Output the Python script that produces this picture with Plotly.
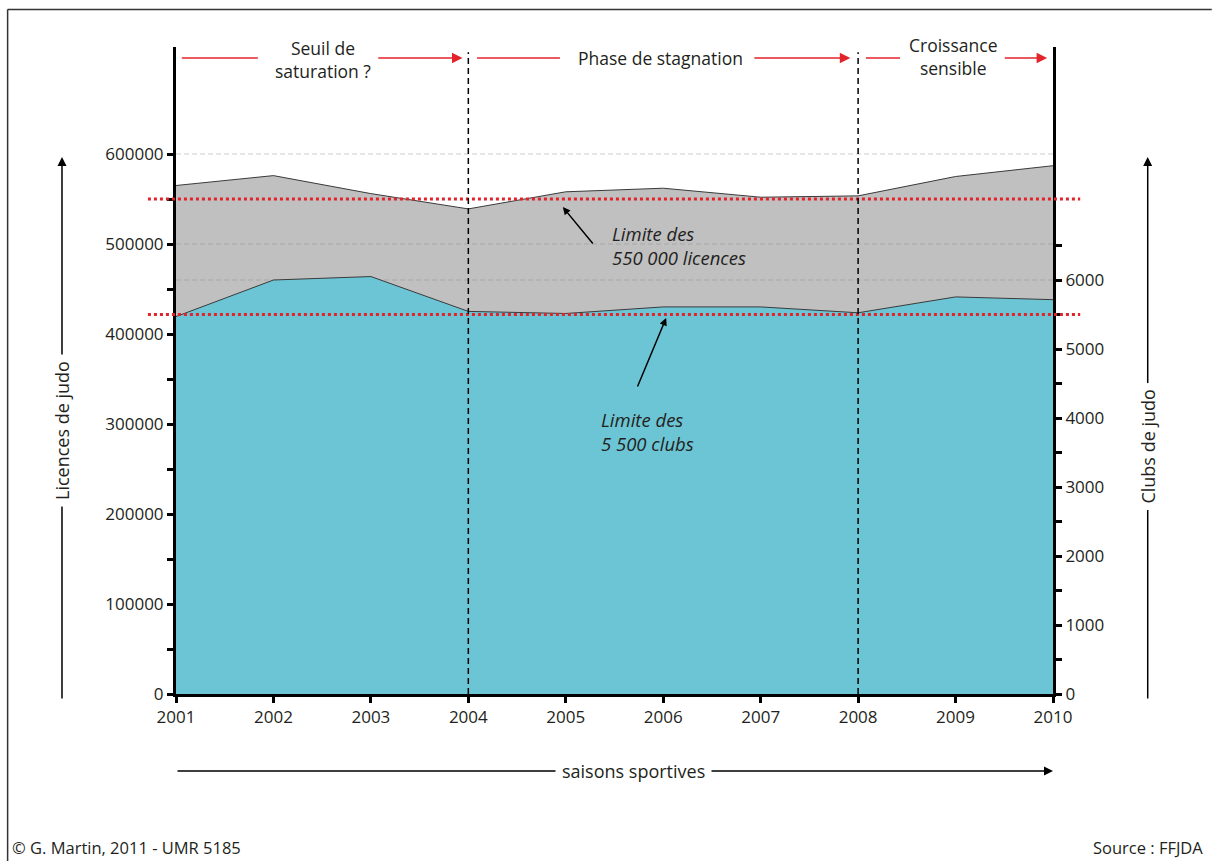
import plotly.graph_objects as go

# ---- data ----
years = [2001, 2002, 2003, 2004, 2005, 2006, 2007, 2008, 2009, 2010]
licences = [565000, 576000, 556000, 539000, 558000, 562000, 552000, 553500, 575000, 587000]
clubs = [5470, 6000, 6050, 5545, 5515, 5610, 5610, 5525, 5755, 5715]

lic_ticks = list(range(0, 600001, 50000))
lic_labels = [str(v) if v % 100000 == 0 else "" for v in lic_ticks]
club_ticks = list(range(0, 6501, 500))
club_labels = [str(v) if v % 1000 == 0 else "" for v in club_ticks]

lic_grid = [600000, 500000]
club_grid = [6000]
lic_limit = 550000
club_limit = 5500
phase_bounds = [2004, 2008]

FONT = "Open Sans"
TXT = "#231f20"
RED = "#e3232a"

fig = go.Figure()

# grey area: licences (left axis)
fig.add_trace(go.Scatter(x=years, y=licences, mode="lines", fill="tozeroy",
                         fillcolor="#c0c0c0", line=dict(color="#3a3a3a", width=1),
                         yaxis="y", hoverinfo="skip", showlegend=False))
for g in lic_grid:
    fig.add_trace(go.Scatter(x=[years[0], years[-1]], y=[g, g], mode="lines",
                             line=dict(color="rgba(140,140,140,0.45)", width=1, dash="5px,3px"),
                             yaxis="y", hoverinfo="skip", showlegend=False))
for g in club_grid:
    fig.add_trace(go.Scatter(x=[years[0], years[-1]], y=[g, g], mode="lines",
                             line=dict(color="rgba(140,140,140,0.45)", width=1, dash="5px,3px"),
                             yaxis="y2", hoverinfo="skip", showlegend=False))
# blue area: clubs (right axis)
fig.add_trace(go.Scatter(x=years, y=clubs, mode="lines", fill="tozeroy",
                         fillcolor="#6cc5d5", line=dict(color="#3a3a3a", width=1),
                         yaxis="y2", hoverinfo="skip", showlegend=False))

shapes = []
# red dotted limit lines
shapes.append(dict(type="line", xref="paper", yref="y", x0=-0.032, x1=1.031,
                   y0=lic_limit, y1=lic_limit, layer="above",
                   line=dict(color=RED, width=3, dash="dot")))
shapes.append(dict(type="line", xref="paper", yref="y2", x0=-0.032, x1=1.031,
                   y0=club_limit, y1=club_limit, layer="above",
                   line=dict(color=RED, width=3, dash="dot")))
# vertical dashed phase boundaries
for b in phase_bounds:
    shapes.append(dict(type="line", xref="x", yref="paper", x0=b, x1=b, y0=0, y1=0.992,
                       layer="above", line=dict(color="black", width=1.5, dash="6px,4px")))
# top red segments (no heads)
TOPY = 0.983
for x0, x1 in [(2001.06, 2001.84), (2004.09, 2004.94), (2008.08, 2008.43)]:
    shapes.append(dict(type="line", xref="x", yref="paper", x0=x0, x1=x1, y0=TOPY, y1=TOPY,
                       line=dict(color=RED, width=1.5)))
# frame
shapes.append(dict(type="line", xref="paper", yref="paper", x0=-0.192, x1=1.181,
                   y0=1.058, y1=1.058, line=dict(color="#333", width=1.5)))
shapes.append(dict(type="line", xref="paper", yref="paper", x0=-0.192, x1=-0.192,
                   y0=1.058, y1=-0.27, line=dict(color="#333", width=1.5)))


def label(x, y, text, xref="paper", yref="paper", xanchor="center", size=17.5, **kw):
    return dict(x=x, y=y, xref=xref, yref=yref, text=text, showarrow=False,
                xanchor=xanchor, yanchor="middle",
                font=dict(family=FONT, size=size, color=TXT), **kw)


ann = []
# top red arrows with heads
for x0, x1 in [(2003.06, 2003.94), (2006.92, 2007.92), (2009.49, 2009.94)]:
    ann.append(dict(x=x1, y=TOPY, xref="x", yref="paper", ax=x0, axref="x", ay=0, ayref="pixel",
                    text="", showarrow=True, arrowhead=2, arrowsize=1.4, arrowwidth=1.5,
                    arrowcolor=RED, standoff=0, startstandoff=0))
ann.append(label(2002.51, 0.98, "Seuil de<br>saturation ?", xref="x"))
ann.append(label(2005.97, TOPY, "Phase de stagnation", xref="x"))
ann.append(label(2008.97, 0.985, "Croissance<br>sensible", xref="x"))

# pointer arrows to limits
ann.append(dict(x=2004.97, y=541000, xref="x", yref="y", ax=2005.29, ay=499000,
                axref="x", ayref="y", text="", showarrow=True, arrowhead=2, arrowsize=1,
                arrowwidth=1.5, arrowcolor="black", standoff=0))
ann.append(label(2005.45, 498000, "<i>Limite des<br>550 000 licences</i>", xref="x", yref="y",
                 xanchor="left", align="left", size=18.5))
ann.append(dict(x=2006.03, y=5450, xref="x", yref="y2", ax=2005.73, ay=4435,
                axref="x", ayref="y2", text="", showarrow=True, arrowhead=2, arrowsize=1,
                arrowwidth=1.5, arrowcolor="black", standoff=0))
ann.append(label(2005.34, 3810, "<i>Limite des<br>5 500 clubs</i>", xref="x", yref="y2",
                 xanchor="left", align="left", size=18.5))

# axis-title arrows
ann.append(dict(x=-0.130, y=0.830, xref="paper", yref="paper", ax=0, ay=543, text="",
                showarrow=True, arrowhead=2, arrowsize=1.2, arrowwidth=1.5, arrowcolor="black"))
ann.append(label(-0.130, 0.408, "Licences de judo", textangle=-90, bgcolor="white",
                 borderpad=6, size=18))
ann.append(dict(x=1.108, y=0.830, xref="paper", yref="paper", ax=0, ay=543, text="",
                showarrow=True, arrowhead=2, arrowsize=1.2, arrowwidth=1.5, arrowcolor="black"))
ann.append(label(1.108, 0.382, "Clubs de judo", textangle=-90, bgcolor="white",
                 borderpad=6, size=18))
ann.append(dict(x=1.0, y=-0.119, xref="paper", yref="paper", ax=-877, ay=0, text="",
                showarrow=True, arrowhead=2, arrowsize=1.2, arrowwidth=1.5, arrowcolor="black"))
ann.append(label(0.522, -0.119, "saisons sportives", bgcolor="white", borderpad=6, size=18))

# footer
ann.append(label(-0.189, -0.238, "© G. Martin, 2011 - UMR 5185", xanchor="left", size=16.5))
ann.append(label(1.173, -0.238, "Source : FFJDA", xanchor="right", size=16.5))

fig.update_layout(
    width=1212, height=861,
    margin=dict(l=176, r=159, t=47, b=167, autoexpand=False),
    paper_bgcolor="white", plot_bgcolor="white",
    font=dict(family=FONT, size=17, color=TXT),
    xaxis=dict(range=[years[0], years[-1]], tickvals=years, ticktext=[str(y) for y in years],
               showgrid=False, zeroline=False, showline=True, linecolor="black", linewidth=3,
               ticks="outside", ticklen=6, tickwidth=2.5, tickcolor="black",
               tickfont=dict(family=FONT, size=17, color=TXT)),
    yaxis=dict(range=[0, 718900], tickvals=lic_ticks, ticktext=lic_labels,
               showgrid=False, zeroline=False, showline=True, linecolor="black", linewidth=3,
               ticks="outside", ticklen=6, tickwidth=2.5, tickcolor="black",
               tickfont=dict(family=FONT, size=17, color=TXT)),
    yaxis2=dict(range=[0, 9377], tickvals=club_ticks, ticktext=club_labels,
                overlaying="y", side="right", anchor="x",
                showgrid=False, zeroline=False, showline=True, linecolor="black", linewidth=3,
                ticks="outside", ticklen=6, tickwidth=2.5, tickcolor="black",
                tickfont=dict(family=FONT, size=17, color=TXT)),
    shapes=shapes, annotations=ann, showlegend=False,
)

fig.write_html("out.html", config={"displayModeBar": False},
               post_script="document.body.style.margin='0';")
